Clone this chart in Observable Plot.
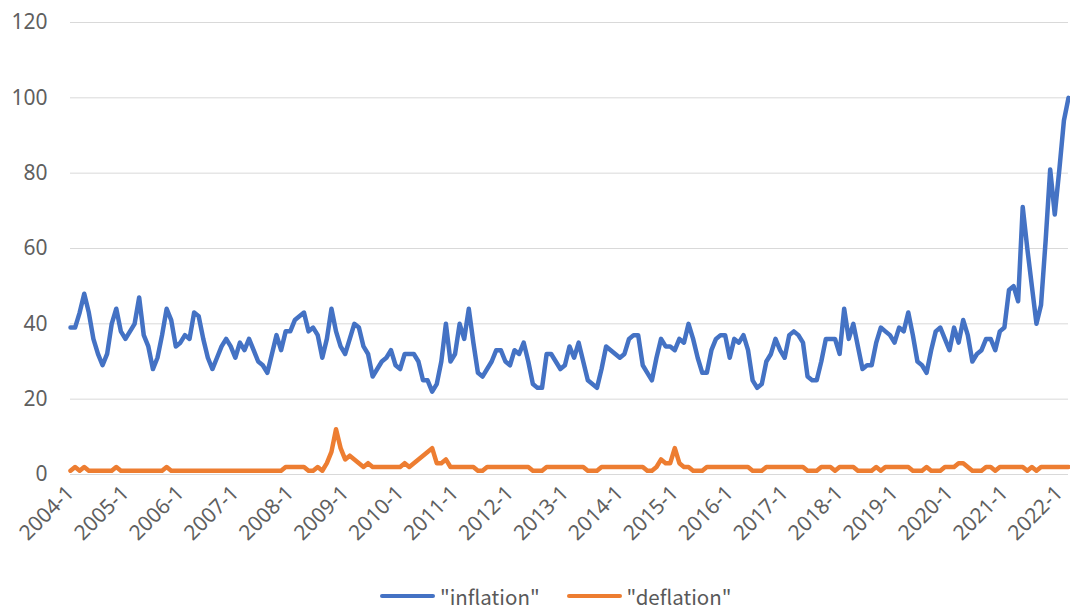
<!DOCTYPE html>
<html>
<head>
<meta charset="utf-8">
<script src="https://cdn.jsdelivr.net/npm/d3@7"></script>
<script src="https://cdn.jsdelivr.net/npm/@observablehq/plot@0.6"></script>
<style>
  body { margin: 0; background: #fff; }
  #chart { position: relative; width: 1070px; height: 612px; font-family: "Noto Sans CJK SC", "Noto Sans", sans-serif; }
  .legend { position: absolute; top: 581px; left: 380px; display: flex; align-items: center; font-size: 20.5px; color: #595959; }
  .item { display: flex; align-items: center; margin-right: 27px; }
  .swatch { width: 55px; height: 4px; border-radius: 2px; margin-right: 5px; }
</style>
</head>
<body>
<div id="chart"></div>
<script>
// Monthly search interest, January 2004 to March 2022 (one row per year)
const firstYear = 2004;
const inflation = [
  39,39,43,48,43,36,32,29,32,40,44,38,
  36,38,40,47,37,34,28,31,37,44,41,34,
  35,37,36,43,42,36,31,28,31,34,36,34,
  31,35,33,36,33,30,29,27,32,37,33,38,
  38,41,42,43,38,39,37,31,36,44,38,34,
  32,36,40,39,34,32,26,28,30,31,33,29,
  28,32,32,32,30,25,25,22,24,30,40,30,
  32,40,36,44,35,27,26,28,30,33,33,30,
  29,33,32,35,30,24,23,23,32,32,30,28,
  29,34,31,35,30,25,24,23,28,34,33,32,
  31,32,36,37,37,29,27,25,31,36,34,34,
  33,36,35,40,36,31,27,27,33,36,37,37,
  31,36,35,37,33,25,23,24,30,32,36,33,
  31,37,38,37,35,26,25,25,30,36,36,36,
  32,44,36,40,34,28,29,29,35,39,38,37,
  35,39,38,43,37,30,29,27,33,38,39,36,
  33,39,35,41,37,30,32,33,36,36,33,38,
  39,49,50,46,71,60,50,40,45,62,81,69,
  81,94,100
];
const deflation = [
  1,2,1,2,1,1,1,1,1,1,2,1,
  1,1,1,1,1,1,1,1,1,2,1,1,
  1,1,1,1,1,1,1,1,1,1,1,1,
  1,1,1,1,1,1,1,1,1,1,1,2,
  2,2,2,2,1,1,2,1,3,6,12,7,
  4,5,4,3,2,3,2,2,2,2,2,2,
  2,3,2,3,4,5,6,7,3,3,4,2,
  2,2,2,2,2,1,1,2,2,2,2,2,
  2,2,2,2,2,1,1,1,2,2,2,2,
  2,2,2,2,2,1,1,1,2,2,2,2,
  2,2,2,2,2,2,1,1,2,4,3,3,
  7,3,2,2,1,1,1,2,2,2,2,2,
  2,2,2,2,2,1,1,1,2,2,2,2,
  2,2,2,2,2,1,1,1,2,2,2,1,
  2,2,2,2,1,1,1,1,2,1,2,2,
  2,2,2,2,1,1,1,2,1,1,1,2,
  2,2,3,3,2,1,1,1,2,2,1,2,
  2,2,2,2,2,1,2,1,2,2,2,2,
  2,2,2
];
const yTicks = [0, 20, 40, 60, 80, 100, 120];

// Category labels "YYYY-M"; only the January labels appear on the axis
const months = inflation.map((_, i) => `${firstYear + Math.floor(i / 12)}-${(i % 12) + 1}`);
const yearTicks = months.filter((_, i) => i % 12 === 0);

const rows = months.map((m, i) => ({month: m, inflation: inflation[i], deflation: deflation[i]}));

const font = '"Noto Sans", "Noto Sans CJK SC", sans-serif';

const plot = Plot.plot({
  width: 1070,
  height: 575,
  marginLeft: 70,
  marginRight: 2,
  marginTop: 22,
  marginBottom: 101,
  style: {fontFamily: font, color: "#5f5f5f", background: "#fff", overflow: "visible"},
  x: {type: "point", domain: months, padding: 0},
  y: {domain: [0, 120]},
  marks: [
    Plot.gridY(yTicks, {stroke: "#d9d9d9", strokeOpacity: 1, strokeWidth: 1}),
    Plot.axisY(yTicks, {tickSize: 0, tickPadding: 23, fontSize: 21, label: null}),
    Plot.axisX(yearTicks, {tickSize: 0, tickPadding: 15, tickRotate: -45, fontSize: 21, label: null}),
    Plot.lineY(rows, {x: "month", y: "inflation", stroke: "#4472C4", strokeWidth: 4.5, strokeLinejoin: "round", strokeLinecap: "round"}),
    Plot.lineY(rows, {x: "month", y: "deflation", stroke: "#ED7D31", strokeWidth: 4.5, strokeLinejoin: "round", strokeLinecap: "round"})
  ]
});

const chart = document.getElementById("chart");
chart.appendChild(plot);

const legend = document.createElement("div");
legend.className = "legend";
[["\"inflation\"", "#4472C4"], ["\"deflation\"", "#ED7D31"]].forEach(([name, color]) => {
  const item = document.createElement("div");
  item.className = "item";
  const sw = document.createElement("span");
  sw.className = "swatch";
  sw.style.background = color;
  const label = document.createElement("span");
  label.textContent = name;
  item.append(sw, label);
  legend.appendChild(item);
});
chart.appendChild(legend);
</script>
</body>
</html>
